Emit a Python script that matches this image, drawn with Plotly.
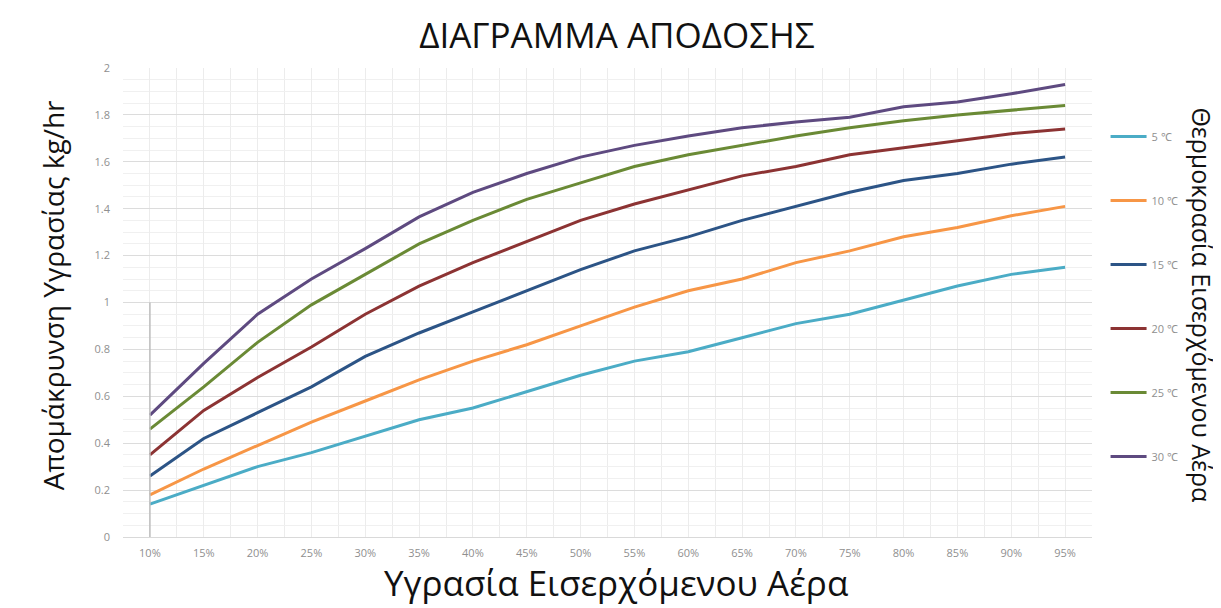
import plotly.graph_objects as go

categories = ["10%", "15%", "20%", "25%", "30%", "35%", "40%", "45%", "50%",
              "55%", "60%", "65%", "70%", "75%", "80%", "85%", "90%", "95%"]

t05 = [0.14, 0.22, 0.30, 0.36, 0.43, 0.50, 0.55, 0.62, 0.69, 0.75, 0.79, 0.85, 0.91, 0.95, 1.01, 1.07, 1.12, 1.15]
t10 = [0.18, 0.29, 0.39, 0.49, 0.58, 0.67, 0.75, 0.82, 0.90, 0.98, 1.05, 1.10, 1.17, 1.22, 1.28, 1.32, 1.37, 1.41]
t15 = [0.26, 0.42, 0.53, 0.64, 0.77, 0.87, 0.96, 1.05, 1.14, 1.22, 1.28, 1.35, 1.41, 1.47, 1.52, 1.55, 1.59, 1.62]
t20 = [0.35, 0.54, 0.68, 0.81, 0.95, 1.07, 1.17, 1.26, 1.35, 1.42, 1.48, 1.54, 1.58, 1.63, 1.66, 1.69, 1.72, 1.74]
t25 = [0.46, 0.64, 0.83, 0.99, 1.12, 1.25, 1.35, 1.44, 1.51, 1.58, 1.63, 1.67, 1.71, 1.745, 1.775, 1.80, 1.82, 1.84]
t30 = [0.52, 0.74, 0.95, 1.10, 1.23, 1.365, 1.47, 1.55, 1.62, 1.67, 1.71, 1.745, 1.77, 1.79, 1.835, 1.855, 1.89, 1.93]

series_names = ["5 ℃", "10 ℃", "15 ℃", "20 ℃", "25 ℃", "30 ℃"]
series_values = [t05, t10, t15, t20, t25, t30]
colors = ["#4bacc6", "#f79646", "#2c5486", "#8c3333", "#6a8a35", "#5e4a80"]

y_ticks = [0, 0.2, 0.4, 0.6, 0.8, 1, 1.2, 1.4, 1.6, 1.8, 2]

x_idx = list(range(len(categories)))

fig = go.Figure()
for i, (name, vals, col) in enumerate(zip(series_names, series_values, colors)):
    fig.add_trace(go.Scatter(
        x=x_idx, y=vals, mode="lines", name=name,
        line=dict(color=col, width=3),
        legendgroup=f"g{i}",
    ))

# left reference line at first category
fig.add_shape(type="line", xref="x", yref="y",
              x0=x_idx[0], x1=x_idx[0], y0=y_ticks[0], y1=y_ticks[5],
              line=dict(color="#bdbdbd", width=1.5), layer="above")

fig.update_layout(
    width=1213, height=600,
    margin=dict(l=115, r=129, t=60, b=71),
    paper_bgcolor="white", plot_bgcolor="white",
    font=dict(family="Open Sans", color="#8f8f8f"),
    title=dict(text="ΔΙΑΓΡΑΜΜΑ ΑΠΟΔΟΣΗΣ", x=0.502, xanchor="center",
               y=0.953, yanchor="middle",
               font=dict(family="Open Sans", size=35, color="#111111")),
    showlegend=True,
    legend=dict(x=1.014, xanchor="left", y=0.885, yanchor="top",
                font=dict(size=11, color="#8f8f8f"),
                tracegroupgap=45, itemwidth=36,
                bgcolor="rgba(0,0,0,0)"),
    xaxis=dict(range=[-0.5, len(categories) - 0.5],
               tickmode="array", tickvals=x_idx, ticktext=categories,
               showgrid=True, gridcolor="#ececec", gridwidth=1,
               minor=dict(dtick=0.5, tick0=0.5, showgrid=True, gridcolor="#ececec", gridwidth=1),
               zeroline=False, showline=False, ticks="", ticklabelstandoff=8,
               tickfont=dict(size=11, color="#8f8f8f")),
    yaxis=dict(range=[0, 2], tickmode="array", tickvals=y_ticks,
               showgrid=True, gridcolor="#dcdcdc", gridwidth=1,
               minor=dict(dtick=0.05, showgrid=True, gridcolor="#f0f0f0", gridwidth=1),
               zeroline=True, zerolinecolor="#d9d9d9", zerolinewidth=1,
               showline=False, ticks="", ticklabelstandoff=12,
               tickfont=dict(size=11, color="#8f8f8f")),
    annotations=[
        dict(text="Υγρασία Εισερχόμενου Αέρα", xref="paper", yref="paper",
             x=0.509, y=-0.098, xanchor="center", yanchor="middle", showarrow=False,
             font=dict(family="Open Sans", size=35, color="#111111")),
        dict(text="Απομάκρυνση Υγρασίας kg/hr", xref="paper", yref="paper",
             x=-0.072, y=0.516, xanchor="center", yanchor="middle", showarrow=False,
             textangle=-90,
             font=dict(family="Open Sans", size=28, color="#111111")),
        dict(text="Θερμοκρασία Εισερχόμενου Αέρα", xref="paper", yref="paper",
             x=1.114, y=0.495, xanchor="center", yanchor="middle", showarrow=False,
             textangle=90,
             font=dict(family="Open Sans", size=25, color="#111111")),
    ],
)

fig.write_html("out.html")
